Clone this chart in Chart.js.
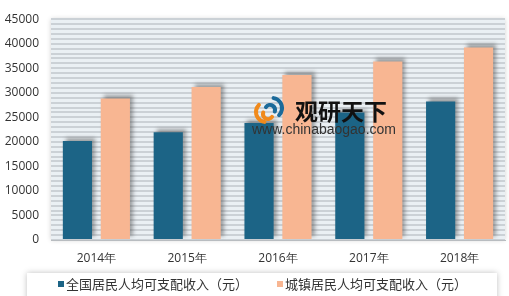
<!DOCTYPE html>
<html>
<head>
<meta charset="utf-8">
<script src="https://cdn.jsdelivr.net/npm/chart.js@4"></script>
<style>
  html, body { margin: 0; padding: 0; background: #fff; }
  #wrap { width: 509px; height: 296px; }
</style>
</head>
<body>
<div id="wrap"><canvas id="incomeChart" width="509" height="296"></canvas></div>
<script>
let years = ['2014年', '2015年', '2016年', '2017年', '2018年'];
let national = [20167, 21966, 23821, 25974, 28228];
let urban = [28844, 31195, 33616, 36396, 39251];
let seriesNames = ['全国居民人均可支配收入（元）', '城镇居民人均可支配收入（元）'];
let yTicks = [0, 5000, 10000, 15000, 20000, 25000, 30000, 35000, 40000, 45000];

let blue = '#1c6486';
let peach = '#f8b692';

// striped plot background + soft frame shadow
let plotBg = {
  id: 'plotBg',
  beforeDraw(chart) {
    let c = chart.ctx, a = chart.chartArea;
    c.save();
    c.shadowColor = 'rgba(0,0,0,0.18)';
    c.shadowBlur = 5;
    c.fillStyle = '#eaf0f4';
    c.fillRect(a.left, a.top, a.right - a.left, a.bottom - a.top);
    c.restore();
  }
};

// bar shadows
let barShadow = {
  id: 'barShadow',
  beforeDatasetsDraw(chart) {
    let c = chart.ctx;
    c.save();
    c.shadowColor = 'rgba(60,60,60,0.45)';
    c.shadowBlur = 4;
    c.shadowOffsetX = 3;
    c.shadowOffsetY = -3;
  },
  afterDatasetsDraw(chart) {
    chart.ctx.restore();
  }
};

// watermark
let watermark = {
  id: 'watermark',
  afterDatasetsDraw(chart) {
    let c = chart.ctx;
    c.save();
    c.lineCap = 'round';
    c.lineWidth = 4;
    c.strokeStyle = '#f08a1c';
    c.beginPath(); c.arc(266, 112, 10, Math.PI * 0.55, Math.PI * 1.25); c.stroke();
    c.beginPath(); c.arc(268, 114, 5, Math.PI * 0.2, Math.PI * 1.1); c.stroke();
    c.strokeStyle = '#1b6a9a';
    c.beginPath(); c.arc(272, 108, 10, Math.PI * 1.55, Math.PI * 2.25); c.stroke();
    c.beginPath(); c.arc(270, 110, 5, Math.PI * 1.2, Math.PI * 2.1); c.stroke();
    c.fillStyle = '#111';
    c.font = 'bold 23px "Noto Sans CJK SC"';
    c.textBaseline = 'middle';
    c.fillText('观研天下', 295, 111);
    c.fillStyle = '#333';
    c.font = '14px "Liberation Sans"';
    c.fillText('www.chinabaogao.com', 252, 130);
    c.restore();
  }
};

// legend in a shadowed frame
let legendBox = {
  id: 'legendBox',
  beforeDraw(chart) {
    let c = chart.ctx;
    c.save();
    c.shadowColor = 'rgba(0,0,0,0.25)';
    c.shadowBlur = 6;
    c.fillStyle = '#fff';
    c.fillRect(27, 273, 470, 40);
    c.restore();
  },
  afterDraw(chart) {
    let c = chart.ctx;
    let xs = [58, 277];
    c.save();
    c.font = '13px "Noto Sans CJK SC"';
    c.textBaseline = 'middle';
    chart.data.datasets.forEach((ds, i) => {
      c.fillStyle = ds.backgroundColor;
      c.fillRect(xs[i], 281, 6, 6);
      c.fillStyle = '#333';
      c.fillText(ds.label, xs[i] + 8, 284);
    });
    c.restore();
  }
};

let ctx = document.getElementById('incomeChart').getContext('2d');
let incomeChart = new Chart(ctx, {
  type: 'bar',
  data: {
    labels: years,
    datasets: [
      { label: seriesNames[0], data: national, backgroundColor: blue },
      { label: seriesNames[1], data: urban, backgroundColor: peach }
    ]
  },
  options: {
    responsive: false,
    animation: false,
    layout: { padding: { top: 8, right: 4, left: 0, bottom: 0 } },
    datasets: {
      bar: { categoryPercentage: 0.835, barPercentage: 0.77 }
    },
    plugins: {
      legend: { display: false },
      tooltip: { enabled: false }
    },
    scales: {
      x: {
        grid: { display: false },
        border: { color: '#b8bcc0' },
        ticks: { color: '#333', font: { size: 12, family: '"Open Sans"' }, padding: 3 },
        afterFit: s => { s.height = 56; }
      },
      y: {
        min: yTicks[0],
        max: yTicks[yTicks.length - 1],
        border: { display: false },
        grid: { color: '#cbd1d6', lineWidth: 2, drawTicks: false },
        ticks: {
          stepSize: 1000,
          maxTicksLimit: 100,
          autoSkip: false,
          padding: 12,
          color: '#333',
          font: { size: 12, family: '"Open Sans"' },
          callback: v => yTicks.includes(v) ? v : ''
        },
        afterFit: s => { s.width = 51; }
      }
    }
  },
  plugins: [legendBox, plotBg, barShadow, watermark]
});
</script>
</body>
</html>
